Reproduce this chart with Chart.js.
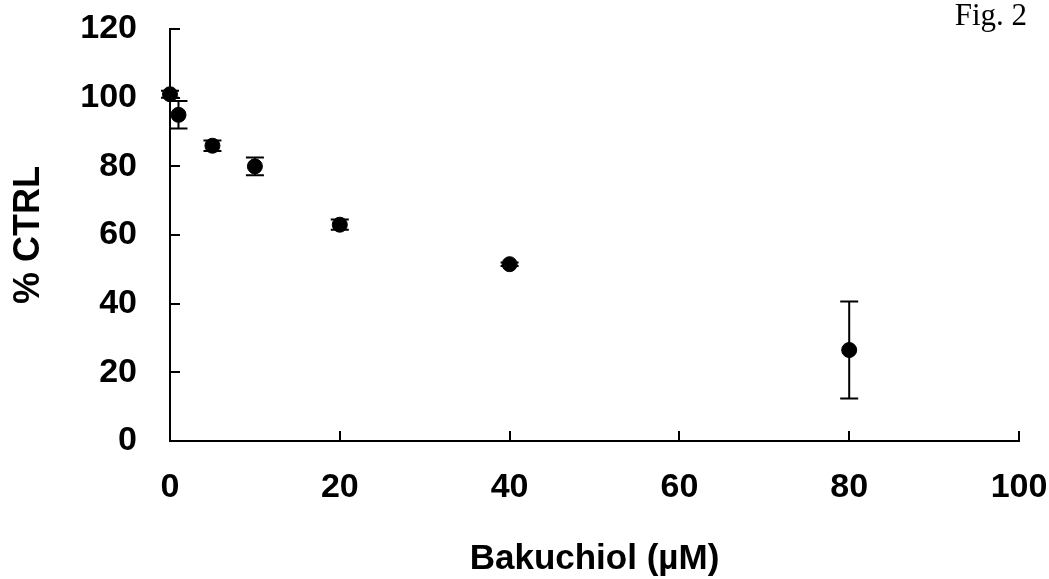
<!DOCTYPE html>
<html>
<head>
<meta charset="utf-8">
<script src="https://cdn.jsdelivr.net/npm/chart.js@4"></script>
<style>
  body { margin: 0; background: #fff; }
  #wrap { position: relative; width: 1049px; height: 579px; }
  #figLabel {
    position: absolute; right: 22px; top: -1px;
    font-family: "Liberation Serif", "Times New Roman", serif;
    font-size: 31px; line-height: 1; color: #000;
  }
</style>
</head>
<body>
<div id="wrap">
  <canvas id="Grafico_Dosis" width="1049" height="579"></canvas>
  <div id="figLabel">Fig. 2</div>
</div>
<script>
// datos
const concentraciones = [0, 1, 5, 10, 20, 40, 80];
const porcentajeCtrl = [101, 95, 86, 80, 63, 51.5, 26.5];
const errores = [1, 4, 1.5, 2.6, 1.5, 0.5, 14.1];
const ticksX = [0, 20, 40, 60, 80, 100];
const ticksY = [0, 20, 40, 60, 80, 100, 120];

document.addEventListener("DOMContentLoaded", () => {
  // barras de error verticales
  const barrasError = {
    id: "barrasError",
    beforeDatasetsDraw(chart) {
      const { ctx, scales: { x, y } } = chart;
      ctx.save();
      ctx.strokeStyle = "#000";
      ctx.lineWidth = 2;
      concentraciones.forEach((c, i) => {
        const px = x.getPixelForValue(c);
        const top = y.getPixelForValue(porcentajeCtrl[i] + errores[i]);
        const bot = y.getPixelForValue(porcentajeCtrl[i] - errores[i]);
        ctx.beginPath();
        ctx.moveTo(px, top); ctx.lineTo(px, bot);
        ctx.moveTo(px - 9, top); ctx.lineTo(px + 9, top);
        ctx.moveTo(px - 9, bot); ctx.lineTo(px + 9, bot);
        ctx.stroke();
      });
      ctx.restore();
    }
  };

  // marcas de los ejes hacia adentro
  const marcasAdentro = {
    id: "marcasAdentro",
    afterDraw(chart) {
      const { ctx, scales: { x, y }, chartArea } = chart;
      ctx.save();
      ctx.strokeStyle = "#000";
      ctx.lineWidth = 2;
      ctx.beginPath();
      ticksY.forEach(v => {
        const py = Math.round(y.getPixelForValue(v));
        ctx.moveTo(chartArea.left, py); ctx.lineTo(chartArea.left + 10, py);
      });
      ticksX.forEach(v => {
        const px = Math.round(x.getPixelForValue(v));
        ctx.moveTo(px, chartArea.bottom); ctx.lineTo(px, chartArea.bottom - 10);
      });
      ctx.stroke();
      ctx.restore();
    }
  };

  const fuenteTicks = { family: "'Liberation Sans', Arial, sans-serif", size: 34, weight: "bold" };

  new Chart(document.getElementById("Grafico_Dosis").getContext("2d"), {
    type: "scatter",
    data: {
      datasets: [{
        label: "% CTRL",
        data: concentraciones.map((c, i) => ({ x: c, y: porcentajeCtrl[i] })),
        backgroundColor: "#000",
        borderColor: "#000",
        pointRadius: 7.5,
        pointHoverRadius: 7.5,
        clip: false
      }]
    },
    options: {
      responsive: false,
      animation: false,
      layout: { padding: { left: 0, top: 29, right: 30, bottom: 0 } },
      plugins: {
        legend: { display: false },
        tooltip: { enabled: false }
      },
      scales: {
        x: {
          type: "linear",
          min: 0,
          max: 100,
          afterBuildTicks: s => { s.ticks = ticksX.map(v => ({ value: v })); },
          afterFit: s => { s.height = 138; s.paddingLeft = 0; s.paddingRight = 0; },
          grid: { display: false, drawTicks: false },
          border: { display: true, color: "#000", width: 2 },
          ticks: { color: "#000", font: fuenteTicks, padding: 26, maxRotation: 0 },
          title: {
            display: true,
            text: "Bakuchiol (µM)",
            color: "#000",
            font: { family: "'Liberation Sans', Arial, sans-serif", size: 35, weight: "bold", lineHeight: 1 },
            padding: { top: 0, bottom: 2 }
          }
        },
        y: {
          type: "linear",
          min: 0,
          max: 120,
          afterBuildTicks: s => { s.ticks = ticksY.map(v => ({ value: v })); },
          afterFit: s => { s.width = 170; s.paddingTop = 0; s.paddingBottom = 0; },
          grid: { display: false, drawTicks: false },
          border: { display: true, color: "#000", width: 2 },
          ticks: { color: "#000", font: fuenteTicks, padding: 33 },
          title: {
            display: true,
            text: "% CTRL",
            color: "#000",
            font: { family: "'Liberation Sans', Arial, sans-serif", size: 36, weight: "bold", lineHeight: 1.2 },
            padding: { top: 7, bottom: 0 }
          }
        }
      }
    },
    plugins: [barrasError, marcasAdentro]
  });
});
</script>
</body>
</html>
